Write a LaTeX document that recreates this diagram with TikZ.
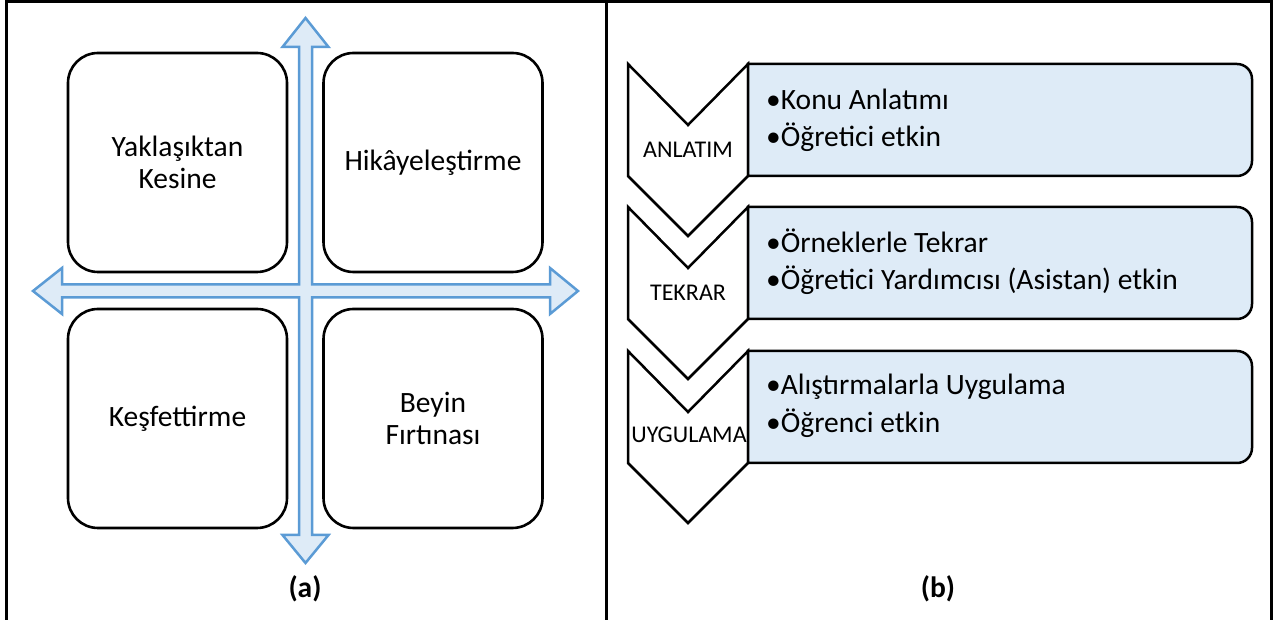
\documentclass[tikz,border=0pt]{standalone}
\usepackage{fontspec}
\setmainfont{Carlito}
\definecolor{arrowblue}{HTML}{5B9BD5}
\definecolor{lightblue}{HTML}{DEEBF7}
\tikzset{
  x=1pt,y=1pt,
  frameline/.style={line width=3pt,black},
  quadbox/.style={draw=black,line width=2.6pt,fill=white,rounded corners=30pt,minimum width=219pt,minimum height=219pt,inner sep=0pt,align=center,font=\fontsize{29.5}{32}\selectfont},
  quadarrow/.style={draw=arrowblue,fill=lightblue,line width=2.5pt,line join=miter},
  chevronshape/.style={draw=black,fill=white,line width=2.5pt,line join=miter},
  chevlabel/.style={anchor=base,inner sep=0pt,font=\fontsize{24}{26}\selectfont},
  infobox/.style={draw=black,fill=lightblue,line width=2.5pt},
  bullettext/.style={anchor=base west,inner sep=0pt,font=\fontsize{29.5}{32}\selectfont},
  caption/.style={anchor=base,inner sep=0pt,font=\fontsize{29.5}{32}\selectfont\bfseries}
}
\begin{document}
\begin{tikzpicture}
\useasboundingbox (0,0) rectangle (1274,620);
% frame
\coordinate (fl0) at (6,0); \coordinate (fl1) at (6,618);
\coordinate (fr1) at (1271,618); \coordinate (fr0) at (1271,0);
\coordinate (fm0) at (606,0); \coordinate (fm1) at (606,618);
\draw[frameline,line join=miter] (fl0) -- (fl1) -- (fr1) -- (fr0);
\draw[frameline] (fm0) -- (fm1);

% left panel: quad arrow
\draw[quadarrow] (305.5,602) -- (328.5,573) -- (312,573) -- (312,335.5) -- (550,335.5) -- (550,352) -- (578,329) -- (550,306) -- (550,322.5) -- (312,322.5) -- (312,85) -- (328.5,85) -- (305.5,57) -- (282.5,85) -- (299,85) -- (299,322.5) -- (62,322.5) -- (62,306) -- (33,329) -- (62,352) -- (62,335.5) -- (299,335.5) -- (299,573) -- (282.5,573) -- cycle;

\node[quadbox] (tl) at (177.5,457.5) {Yaklaşıktan\\Kesine};
\node[quadbox] (tr) at (433,457.5) {Hikâyeleştirme};
\node[quadbox] (bl) at (177.5,201.5) {Keşfettirme};
\node[quadbox] (br) at (433,201.5) {Beyin\\Fırtınası};

\node[caption] (capa) at (305,22) {(a)};

% right panel: chevrons
\draw[chevronshape] (628,556) -- (688,495) -- (748,556) -- (748,444) -- (688,384) -- (628,444) -- cycle;
\draw[chevronshape] (628,413) -- (688,352) -- (748,413) -- (748,301) -- (688,241) -- (628,301) -- cycle;
\draw[chevronshape] (628,269) -- (688,208) -- (748,269) -- (748,157) -- (688,97) -- (628,157) -- cycle;

\node[chevlabel] (c1) at (688,462) {ANLATIM};
\node[chevlabel] (c2) at (688,319) {TEKRAR};
\node[chevlabel] (c3) at (689,177) {UYGULAMA};

% info boxes
\draw[infobox] (748,444) -- (748,556) -- (1237,556) arc[start angle=90,end angle=0,radius=15] -- (1252,459) arc[start angle=0,end angle=-90,radius=15] -- cycle;
\draw[infobox] (748,301) -- (748,413) -- (1237,413) arc[start angle=90,end angle=0,radius=15] -- (1252,316) arc[start angle=0,end angle=-90,radius=15] -- cycle;
\draw[infobox] (748,157) -- (748,269) -- (1237,269) arc[start angle=90,end angle=0,radius=15] -- (1252,172) arc[start angle=0,end angle=-90,radius=15] -- cycle;

\node[bullettext] (t11) at (766,510) {•Konu Anlatımı};
\node[bullettext] (t12) at (766,473) {•Öğretici etkin};
\node[bullettext] (t21) at (766,367) {•Örneklerle Tekrar};
\node[bullettext] (t22) at (766,330) {•Öğretici Yardımcısı (Asistan) etkin};
\node[bullettext] (t31) at (766,225) {•Alıştırmalarla Uygulama};
\node[bullettext] (t32) at (766,187) {•Öğrenci etkin};

\node[caption] (capb) at (938,22) {(b)};
\end{tikzpicture}
\end{document}
